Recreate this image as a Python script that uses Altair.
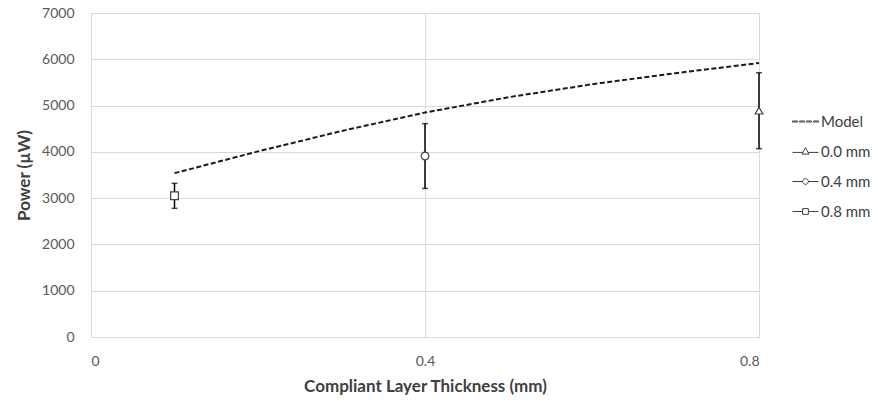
import altair as alt
import pandas as pd

# Measured points (one marker per compliant layer)
series_names = ["0.8 mm", "0.4 mm", "0.0 mm"]
thickness = [0.1, 0.4, 0.8]
power_mean = [3050, 3910, 4890]
power_err = [270, 700, 820]

# Model prediction
model_thickness = [0.1, 0.2, 0.3, 0.4, 0.5, 0.6, 0.7, 0.8]
model_power = [3540, 4010, 4450, 4850, 5180, 5460, 5700, 5920]

legend_order = ["Model", "0.0 mm", "0.4 mm", "0.8 mm"]

# Legend glyphs: a dashed stroke for the model, marker-on-line for the data series
legend_paths = [
    "M-1,-0.04H-0.62V0.04H-1Z M-0.46,-0.04H-0.08V0.04H-0.46Z "
    "M0.08,-0.04H0.46V0.04H0.08Z M0.62,-0.04H1V0.04H0.62Z",
    "M-1,0.07H-0.2 M0.2,0.07H1 M0,-0.3L0.27,0.2L-0.27,0.2Z",
    "M-1,0H-0.22 M0.22,0H1 M0.22,0A0.22,0.22 0 1,1 -0.22,0A0.22,0.22 0 1,1 0.22,0Z",
    "M-1,0H-0.22 M0.22,0H1 M-0.22,-0.22H0.22V0.22H-0.22Z",
]
marker_shapes = {"0.0 mm": "triangle-up", "0.4 mm": "circle", "0.8 mm": "square"}

points = pd.DataFrame({
    "series": series_names,
    "thickness": thickness,
    "power": power_mean,
    "lo": [m - e for m, e in zip(power_mean, power_err)],
    "hi": [m + e for m, e in zip(power_mean, power_err)],
})
model = pd.DataFrame({"thickness": model_thickness, "power": model_power})
legend_df = pd.DataFrame({
    "series": legend_order,
    "thickness": [model_thickness[0]] + thickness[::-1],
    "power": [model_power[0]] + power_mean[::-1],
})

FONT = "Lato"
GRID = "#d9d9d9"

x_enc = alt.X(
    "thickness:Q",
    scale=alt.Scale(domain=[0, 0.8], nice=False, zero=False),
    axis=alt.Axis(
        values=[0, 0.4, 0.8],
        labelExpr="datum.value == 0 ? '0' : format(datum.value, '.1f')",
        title="Compliant Layer Thickness (mm)",
        grid=True,
        gridColor=GRID,
        domainColor=GRID,
        ticks=False,
        labelPadding=17,
        labelFontSize=14,
        labelColor="#595959",
        labelFont=FONT,
        titleFont=FONT,
        titleFontSize=17,
        titleFontWeight="bold",
        titleColor="#404040",
        titlePadding=10,
    ),
)
y_scale = alt.Scale(domain=[0, 7000], nice=False)
y_axis = alt.Axis(
    values=list(range(0, 7001, 1000)),
    format="d",
    title="Power (µW)",
    grid=True,
    gridColor=GRID,
    domainColor=GRID,
    ticks=False,
    labelPadding=17,
    labelFontSize=14,
    labelColor="#595959",
    labelFont=FONT,
    titleFont=FONT,
    titleFontSize=17,
    titleFontWeight="bold",
    titleColor="#404040",
    titlePadding=8,
)

model_line = alt.Chart(model).mark_line(
    color="#1a1a1a", strokeWidth=2, strokeDash=[5, 2.5]
).encode(x=x_enc, y=alt.Y("power:Q", scale=y_scale, axis=y_axis))

err_rule = alt.Chart(points).mark_rule(color="black", strokeWidth=1.5).encode(
    x="thickness:Q", y="lo:Q", y2="hi:Q"
)
cap_lo = alt.Chart(points).mark_tick(
    color="black", orient="horizontal", size=6, thickness=1.5
).encode(x="thickness:Q", y="lo:Q")
cap_hi = alt.Chart(points).mark_tick(
    color="black", orient="horizontal", size=6, thickness=1.5
).encode(x="thickness:Q", y="hi:Q")

marker_layers = [
    alt.Chart(points).transform_filter(alt.datum.series == name).mark_point(
        shape=shape, size=60, filled=True, fill="white",
        stroke="#404040", strokeWidth=1.2, opacity=1,
    ).encode(x="thickness:Q", y="power:Q")
    for name, shape in marker_shapes.items()
]

# Legend-only layer: invisible marks carrying the series shapes
legend_layer = alt.Chart(legend_df).mark_point(
    opacity=0, color="#404040", filled=False
).encode(
    x="thickness:Q",
    y="power:Q",
    shape=alt.Shape(
        "series:N",
        scale=alt.Scale(domain=legend_order, range=legend_paths),
        legend=alt.Legend(
            title=None,
            orient="none",
            legendX=701,
            legendY=95,
            symbolSize=676,
            symbolOpacity=1,
            symbolStrokeColor="#404040",
            symbolFillColor="transparent",
            symbolStrokeWidth=1,
            labelFont=FONT,
            labelFontSize=15,
            labelColor="#404040",
            labelOffset=2,
            rowPadding=8,
        ),
    ),
)

chart = alt.layer(
    model_line, err_rule, cap_lo, cap_hi, *marker_layers, legend_layer
).properties(
    width=668,
    height=324,
    padding={"left": 91, "top": 13, "right": 122, "bottom": 65},
    autosize=alt.AutoSizeParams(type="none"),
    background="white",
).configure_view(stroke=None)

chart.save("out.html", embed_options={"renderer": "svg", "actions": False})
